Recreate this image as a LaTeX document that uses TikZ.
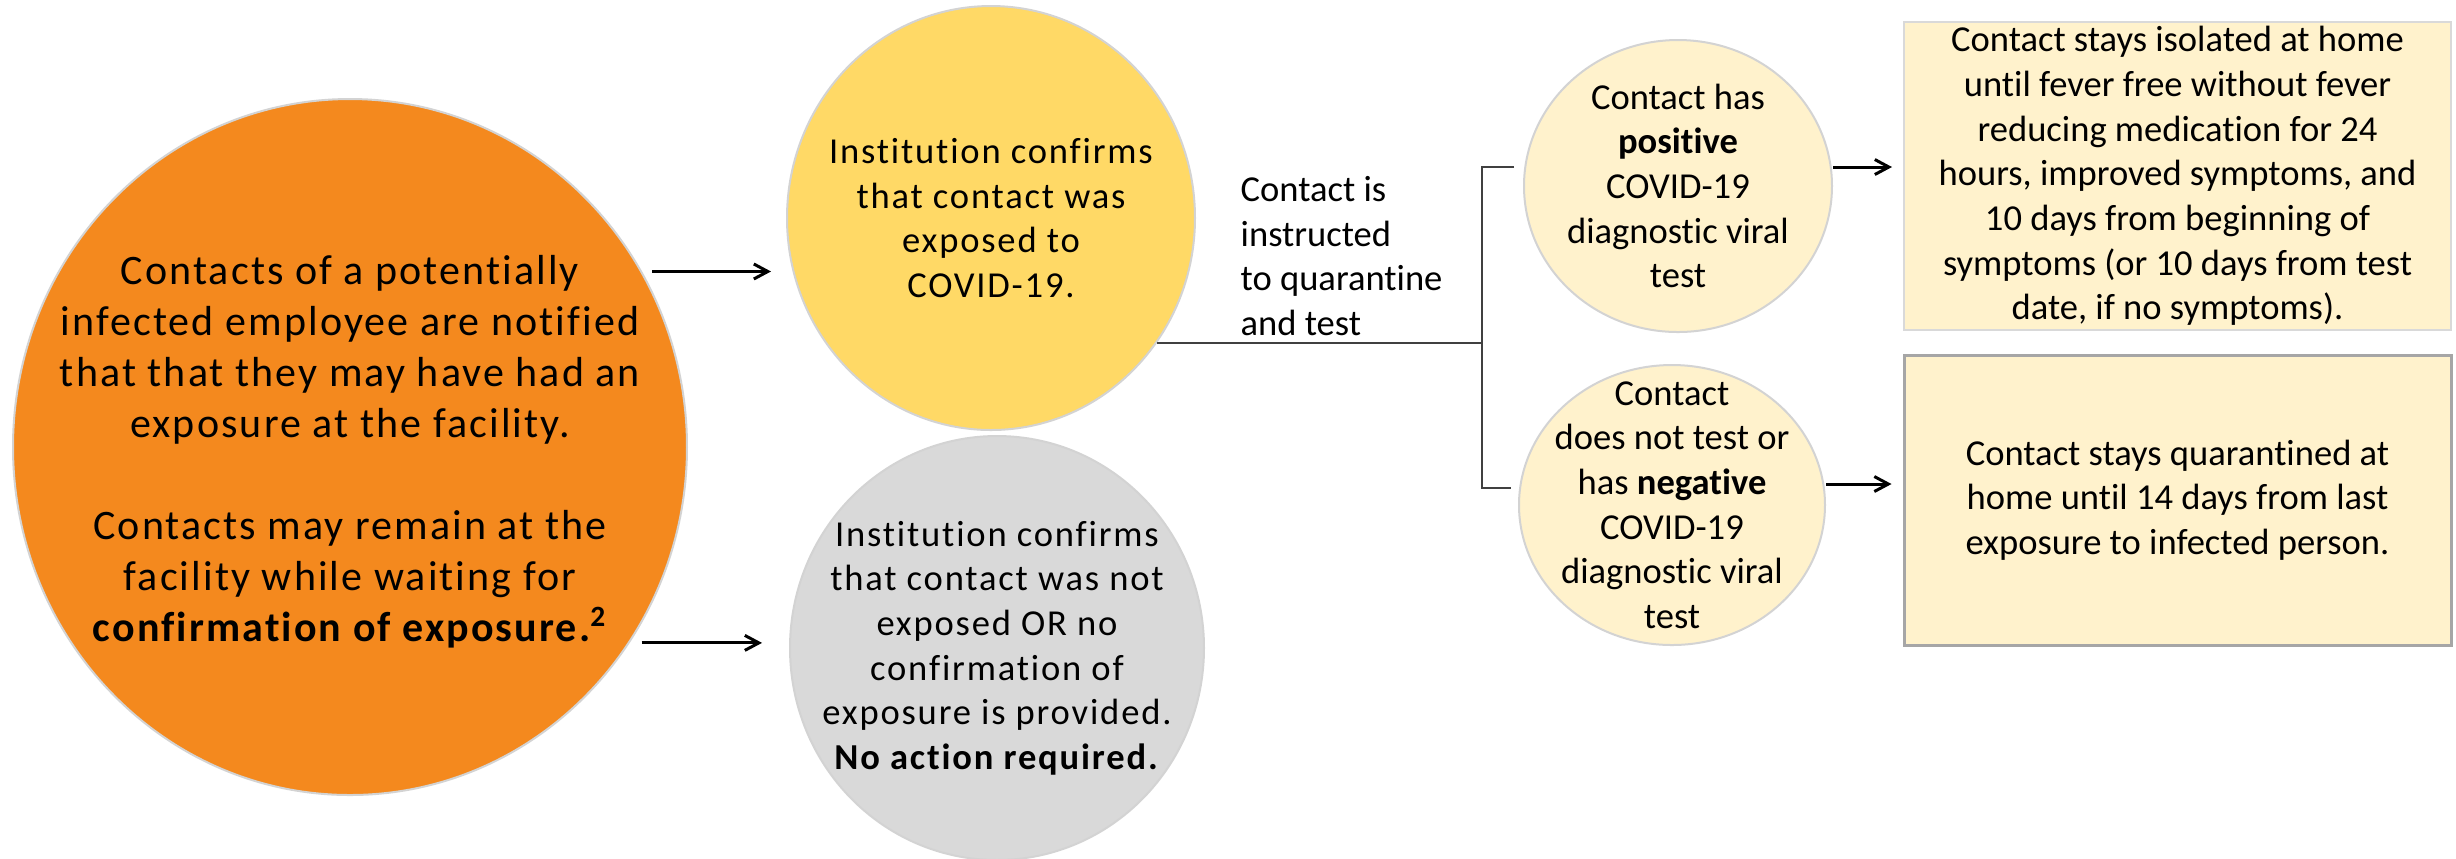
\documentclass[tikz,border=0pt]{standalone}
\usepackage{fontspec}
\setmainfont{Carlito}[Ligatures=NoCommon]
\newfontfamily\widefont[LetterSpace=5,Ligatures=NoCommon]{Carlito}
\usepackage{tikz}
\usetikzlibrary{arrows.meta}
\usetikzlibrary{positioning}
\usetikzlibrary{shapes.geometric}
\definecolor{orangefill}{HTML}{F4891E}
\definecolor{yellowfill}{HTML}{FFD966}
\definecolor{greyfill}{HTML}{D9D9D9}
\definecolor{creamfill}{HTML}{FFF2CC}
\definecolor{rimgrey}{HTML}{D3D3D3}
\definecolor{boxgrey}{HTML}{A6A6A6}
\definecolor{linkgrey}{HTML}{404040}

\begin{document}
\begin{tikzpicture}[x=0.1mm,y=-0.1mm,>={Straight Barb[length=1.4mm,width=1.5mm]},
		blob/.style={ellipse,draw=rimgrey,line width=0.2mm,inner sep=0pt},
		card/.style={rectangle,fill=creamfill,inner sep=0pt,minimum width=54.7mm},
		txt/.style={align=center,inner sep=0pt,font=\fontsize{10.4pt}{12.7pt}\selectfont},
		widetxt/.style={align=center,inner sep=0pt,font=\widefont\fontsize{10.4pt}{12.7pt}\selectfont},
		arr/.style={->,line width=0.3mm},
		link/.style={draw=linkgrey,line width=0.2mm}]
	\useasboundingbox (0,0) rectangle (2456,858);
	\node[blob,fill=orangefill,minimum width=67.4mm,minimum height=69.6mm] (notify) at (350,447) {};
	\node[widetxt,font=\widefont\fontsize{11.95pt}{14.5pt}\selectfont] (notify-t) at ([yshift=-0.5mm]notify.center)
		{Contacts of a potentially\\ infected employee are notified\\ that that they may have had an\\ exposure at the facility.\\[14.5pt]
		Contacts may remain at the\\ facility while waiting for\\ \textbf{confirmation of exposure.\textsuperscript{2}}};
	\node[blob,fill=yellowfill,minimum width=40.8mm,minimum height=42.4mm] (exposed) at (991,218) {};
	\node[widetxt] (exposed-t) at (exposed.center) {Institution confirms\\ that contact was\\ exposed to\\ COVID-19.};
	\node[blob,fill=greyfill,minimum width=41.4mm,minimum height=42.4mm] (notexposed) at (997,648) {};
	\node[widetxt] (notexposed-t) at (notexposed.center) {Institution confirms\\ that contact was not\\ exposed OR no\\ confirmation of\\ exposure is provided.\\ \textbf{No action required.}};
	\node[blob,fill=creamfill,minimum width=30.8mm,minimum height=29.2mm] (positive) at (1678,186) {};
	\node[txt] (positive-t) at (positive.center) {Contact has\\ \textbf{positive}\\ COVID-19\\ diagnostic viral\\ test};
	\node[blob,fill=creamfill,minimum width=30.6mm,minimum height=28mm] (negative) at (1672,505) {};
	\node[txt] (negative-t) at (negative.center) {Contact\\ does not test or\\ has \textbf{negative}\\ COVID-19\\ diagnostic viral\\ test};
	\node[card,draw=greyfill,line width=0.2mm,minimum height=30.8mm] (isolate) at (2177.5,176) {};
	\node[txt] (isolate-t) at (isolate.center) {Contact stays isolated at home\\ until fever free without fever\\ reducing medication for 24\\ hours, improved symptoms, and\\ 10 days from beginning of\\ symptoms (or 10 days from test\\ date, if no symptoms).};
	\node[card,draw=boxgrey,line width=0.3mm,minimum height=29mm] (quarantine) at (2177.5,500) {};
	\node[txt] (quarantine-t) at (quarantine.center) {Contact stays quarantined at\\ home until 14 days from last\\ exposure to infected person.};
	\node[txt,align=left,anchor=west] (instr) at (1240,256) {Contact is\\ instructed\\ to quarantine\\ and test};

	\coordinate (o1) at ([xshift=1mm]notify.31);
	\coordinate (o2) at ([xshift=1.2mm]notify.-35.5);
	\draw[arr] (o1) -- ([xshift=-1.5mm]o1 -| exposed.west);
	\draw[arr] (o2) -- ([xshift=-2.7mm]o2 -| notexposed.west);

	\coordinate (fork) at (1482,343);
	\coordinate (ptick) at (1482,167);
	\coordinate (ntick) at (1482,488);
	\coordinate (nrow) at (1482,484);
	\draw[link] (exposed.-37) -- (exposed.-37 -| fork);
	\draw[link] ([xshift=-0.9mm]ptick -| positive.west) -- (ptick) -- (ntick) -- ([xshift=-0.7mm]ntick -| negative.west);
	\draw[arr] (ptick -| positive.east) -- ([xshift=-1.1mm]ptick -| isolate.west);
	\draw[arr] (nrow -| negative.east) -- ([xshift=-1.1mm]nrow -| quarantine.west);
\end{tikzpicture}
\end{document}
